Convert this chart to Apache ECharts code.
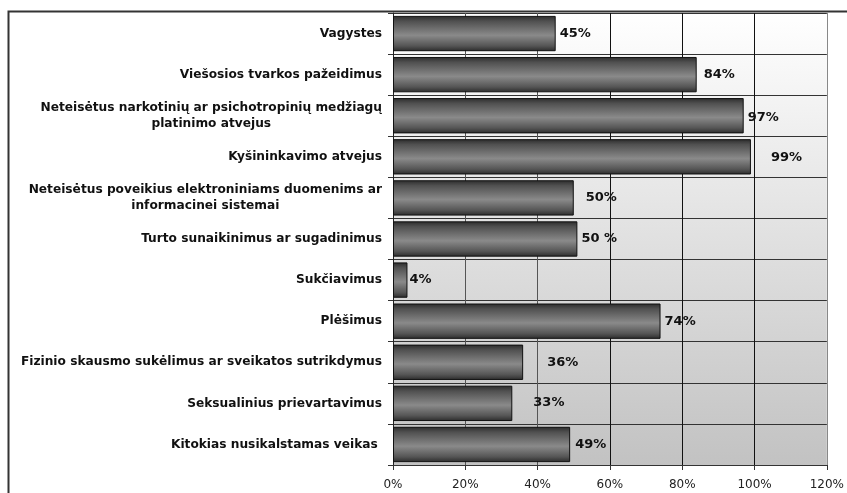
<!DOCTYPE html>
<html>
<head>
<meta charset="utf-8">
<script src="https://cdn.jsdelivr.net/npm/echarts@6/dist/echarts.min.js"></script>
<style>
  html, body { margin: 0; padding: 0; background: #fff; }
  #chart { width: 847px; height: 493px; }
</style>
</head>
<body>
<div id="chart"></div>
<script>
// kategorijos (iš viršaus į apačią)
var categories = [
  'Vagystes',
  'Viešosios tvarkos pažeidimus',
  'Neteisėtus narkotinių ar psichotropinių medžiagų\nplatinimo atvejus',
  'Kyšininkavimo atvejus',
  'Neteisėtus poveikius elektroniniams duomenims ar\ninformacinei sistemai',
  'Turto sunaikinimus ar sugadinimus',
  'Sukčiavimus',
  'Plėšimus',
  'Fizinio skausmo sukėlimus ar sveikatos sutrikdymus',
  'Seksualinius prievartavimus',
  'Kitokias nusikalstamas veikas '
];
// reikšmės, %
var values = [45, 84, 97, 99, 50, 51, 4, 74, 36, 33, 49];
// užrašai prie stulpelių
var valueLabels = ['45%', '84%', '97%', '99%', '50%', '50 %', '4%', '74%', '36%', '33%', '49%'];
var xTicks = [0, 20, 40, 60, 80, 100, 120];

// užrašų poslinkiai (tik išdėstymui)
var labelShift = [[4, 0], [7, 0], [4, 2], [20, 1], [12, 0], [4, 0], [2, 0], [4, 0], [24, 0], [21, -1], [5, 0]];

var font = 'DejaVu Sans, Verdana, sans-serif';

var myChart = echarts.init(document.getElementById('chart'));

var barData = values.map(function (v, i) {
  return {
    value: v,
    label: { formatter: valueLabels[i], offset: labelShift[i] }
  };
});

myChart.setOption({
  animation: false,
  backgroundColor: '#fff',
  graphic: [{
    type: 'rect',
    shape: { x: 8.5, y: 11.5, width: 900, height: 600 },
    style: { fill: 'none', stroke: '#333', lineWidth: 2 },
    z: 100
  }],
  grid: {
    left: 393, top: 13, right: 18, bottom: 28,
    show: true,
    borderWidth: 0,
    backgroundColor: new echarts.graphic.LinearGradient(0, 0, 0, 1, [
      { offset: 0, color: '#ffffff' },
      { offset: 1, color: '#c2c2c2' }
    ])
  },
  xAxis: {
    type: 'value',
    min: xTicks[0],
    max: xTicks[xTicks.length - 1],
    interval: 20,
    axisLine: { show: true, lineStyle: { color: '#333', width: 1 } },
    axisTick: { show: true, length: 5, lineStyle: { color: '#333' } },
    axisLabel: {
      formatter: '{value}%',
      color: '#222',
      fontSize: 12,
      fontFamily: font,
      margin: 14
    },
    splitLine: {
      show: true,
      lineStyle: { color: ['#222', '#555', '#555', '#111', '#111', '#111', '#888'], width: 1 }
    }
  },
  yAxis: {
    type: 'category',
    inverse: true,
    data: categories,
    axisLine: { show: true, lineStyle: { color: '#222', width: 1 } },
    axisTick: { show: true, length: 5, lineStyle: { color: '#333' } },
    splitLine: { show: true, lineStyle: { color: '#333', width: 1 } },
    axisLabel: {
      margin: 11,
      align: 'right',
      color: '#111',
      formatter: function (v) {
        return v.split('\n').map(function (s) { return '{c|' + s + '}'; }).join('\n');
      },
      rich: {
        c: {
          align: 'center',
          fontWeight: 'bold',
          fontSize: 12.2,
          fontFamily: font,
          color: '#111',
          lineHeight: 16
        }
      }
    }
  },
  series: [{
    type: 'bar',
    data: barData,
    barCategoryGap: '14%',
    itemStyle: {
      color: new echarts.graphic.LinearGradient(0, 0, 0, 1, [
        { offset: 0, color: '#2b2b2b' },
        { offset: 0.15, color: '#505050' },
        { offset: 0.55, color: '#8a8a8a' },
        { offset: 0.85, color: '#555555' },
        { offset: 1, color: '#2b2b2b' }
      ]),
      borderColor: '#111',
      borderWidth: 1
    },
    label: {
      show: true,
      position: 'right',
      distance: 0,
      color: '#111',
      fontWeight: 'bold',
      fontSize: 13,
      fontFamily: font
    }
  }]
});
</script>
</body>
</html>
